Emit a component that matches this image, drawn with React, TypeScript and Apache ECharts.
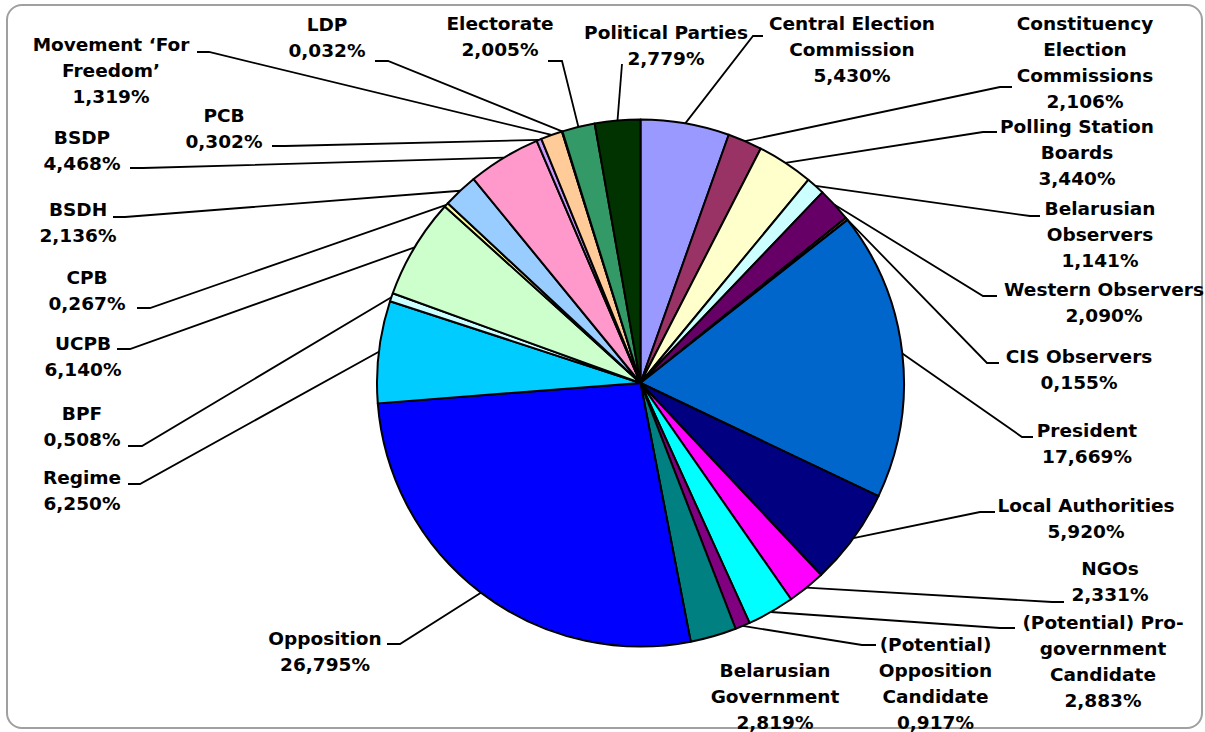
import React, { useEffect, useRef } from 'react';
import * as echarts from 'echarts';

// ---- data (clockwise from 12 o'clock) ----
const categories = [
  'Central Election\nCommission',
  'Constituency\nElection\nCommissions',
  'Polling Station\nBoards',
  'Belarusian\nObservers',
  'Western Observers',
  'CIS Observers',
  'President',
  'Local Authorities',
  'NGOs',
  '(Potential) Pro-\ngovernment\nCandidate',
  '(Potential)\nOpposition\nCandidate',
  'Belarusian\nGovernment',
  'Opposition',
  'Regime',
  'BPF',
  'UCPB',
  'CPB',
  'BSDH',
  'BSDP',
  'PCB',
  'Movement \u2018For\nFreedom\u2019',
  'LDP',
  'Electorate',
  'Political Parties',
];

const values = [
  5.43, 2.106, 3.44, 1.141, 2.09, 0.155, 17.669, 5.92, 2.331, 2.883, 0.917, 2.819,
  26.795, 6.25, 0.508, 6.14, 0.267, 2.136, 4.468, 0.302, 1.319, 0.032, 2.005, 2.779,
];

const colors = [
  '#9999FF', '#993366', '#FFFFCC', '#CCFFFF', '#660066', '#FF8080', '#0066CC', '#000080',
  '#FF00FF', '#00FFFF', '#800080', '#008080', '#0000FF', '#00CCFF', '#CCFFFF', '#CCFFCC',
  '#FFFF99', '#99CCFF', '#FF99CC', '#CC99FF', '#FFCC99', '#3366FF', '#339966', '#003300',
];

// ---- label layout (centre of first text line) ----
const labelAnchors: [number, number][] = [
  [852, 23], [1085, 23], [1077, 126], [1100, 208], [1104, 289], [1079, 356],
  [1087, 430], [1086, 505], [1110, 568], [1103, 622], [935.5, 644], [775, 670],
  [325, 638], [82, 477], [82, 413], [83, 343], [87, 277], [78, 209],
  [82, 137], [224, 115], [111, 44], [327, 24], [500, 23], [666, 32],
];

// leader line: bend point, then end point next to the label
const leaderJoints: ([number, number] | null)[] = [
  [753, 36], [1000, 87], [983, 132], [1030, 216], [983, 296], [987, 363],
  [1022, 437], [980, 512], [1052, 602], [1000, 628], [862, 645], null,
  [400, 644], [140, 484], [142, 446], [130, 349], [150, 308], [125, 217],
  [143, 168], [285, 146], [209, 52], [388, 61], [562, 61], [622, 64],
];
const leaderEnds: ([number, number] | null)[] = [
  [763, 36], [1012, 87], [997, 132], [1040, 216], [997, 296], [999, 363],
  [1033, 437], [995, 512], [1064, 602], [1015, 628], [876, 645], null,
  [387, 644], [128, 484], [128, 446], [117, 349], [137, 308], [113, 217],
  [130, 168], [272, 146], [197, 52], [375, 61], [548, 61], [622, 64],
];

const LINE_H = 26;
const CENTER: [number, number] = [640.5, 383];
const RADIUS = 263.5;

export default function App() {
  const ref = useRef<HTMLDivElement>(null);

  useEffect(() => {
    if (!ref.current) return;
    const chart = echarts.init(ref.current, null, { renderer: 'svg' });
    const total = values.reduce((a, b) => a + b, 0);
    const edgePoint = (i: number): [number, number] => {
      let before = 0;
      for (let j = 0; j < i; j++) before += values[j];
      const mid = ((before + values[i] / 2) / total) * 2 * Math.PI;
      return [CENTER[0] + RADIUS * Math.sin(mid), CENTER[1] - RADIUS * Math.cos(mid)];
    };

    chart.setOption({
      animation: false,
      backgroundColor: '#ffffff',
      graphic: [
        {
          type: 'rect',
          silent: true,
          z: -10,
          shape: { x: 7, y: 5, width: 1195, height: 723, r: 15 },
          style: { fill: 'none', stroke: '#a0a0a0', lineWidth: 2 },
        },
      ],
      series: [
        {
          type: 'pie',
          center: CENTER,
          radius: RADIUS,
          startAngle: 90,
          clockwise: true,
          avoidLabelOverlap: false,
          itemStyle: { borderColor: '#000000', borderWidth: 2 },
          emphasis: { disabled: true },
          label: {
            show: true,
            position: 'outside',
            formatter: (p: any) => `${p.name}\n${Number(p.value).toFixed(3).replace('.', ',')}%`,
            color: '#000000',
            fontFamily: 'DejaVu Sans',
            fontWeight: 'bold',
            fontSize: 18.5,
            lineHeight: LINE_H,
            align: 'center',
          },
          labelLine: { show: true, lineStyle: { color: '#000000', width: 1.8 } },
          labelLayout: (params: any) => {
            const i = params.dataIndex;
            const [ax, ay] = labelAnchors[i];
            const res: any = { x: ax, y: ay - LINE_H / 2, align: 'center', verticalAlign: 'top' };
            const end = leaderEnds[i];
            if (end) {
              const lp = params.labelLinePoints;
              const start = lp && lp[0] ? lp[0] : edgePoint(i);
              const joint = leaderJoints[i] || end;
              res.labelLinePoints = [start, joint, end];
            }
            return res;
          },
          data: categories.map((name, i) => ({
            name,
            value: values[i],
            itemStyle: { color: colors[i] },
            labelLine: { show: leaderEnds[i] !== null },
          })),
        },
      ],
    });

    return () => chart.dispose();
  }, []);

  return (
    <div
      ref={ref}
      style={{ position: 'fixed', left: 0, top: 0, width: 1205, height: 732 }}
    />
  );
}
